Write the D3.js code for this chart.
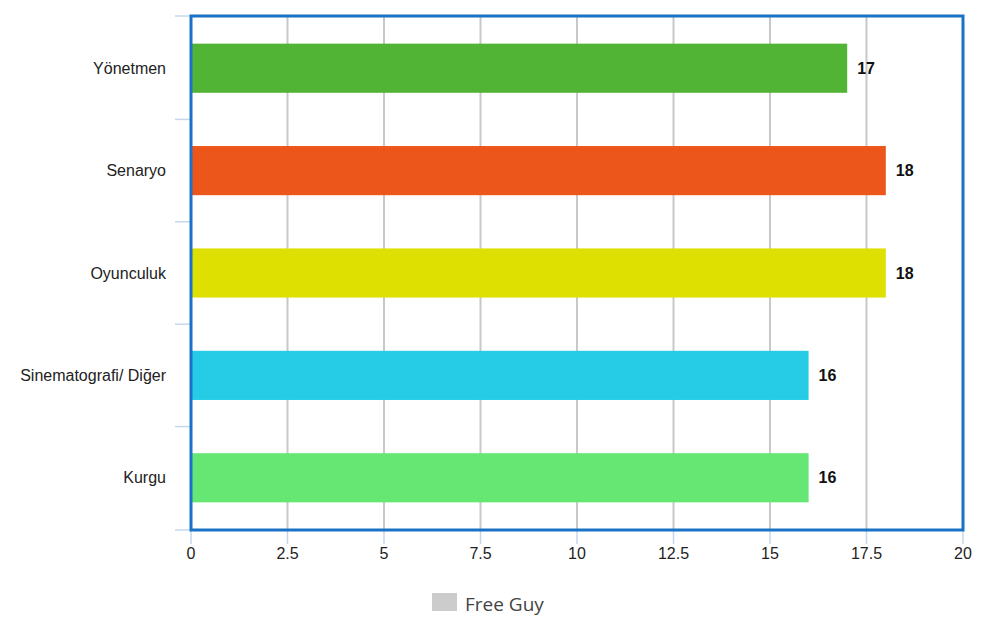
<!DOCTYPE html>
<html><head><meta charset="utf-8">
<script src="https://cdn.jsdelivr.net/npm/d3@7"></script>
<style>body{margin:0;background:#fff}svg{display:block}</style>
</head><body>
<svg id="c" width="981" height="635"></svg>
<script>
const categories = ["Yönetmen","Senaryo","Oyunculuk","Sinematografi/ Diğer","Kurgu"];
const values = [17,18,18,16,16];
const colors = ["#52b434","#ec561b","#dde000","#26cce6","#66e673"];
const xTicks = [0,2.5,5,7.5,10,12.5,15,17.5,20];
const legendLabel = "Free Guy";

const svg = d3.select("#c");
const L=191, R=963, T=16, B=530;
const x = d3.scaleLinear().domain([0,20]).range([L,R]);
const y = d3.scaleBand().domain(categories).range([T,B]).paddingInner(0.52).paddingOuter(0.27);

// gridlines
svg.append("g").selectAll("line").data(xTicks).join("line")
  .attr("x1",d=>x(d)).attr("x2",d=>x(d)).attr("y1",T).attr("y2",B)
  .attr("stroke","#c8c8c8").attr("stroke-width",2);

// bottom axis ticks
svg.append("g").selectAll("line").data(xTicks).join("line")
  .attr("x1",d=>x(d)).attr("x2",d=>x(d)).attr("y1",B).attr("y2",B+14)
  .attr("stroke","#c6d7ec").attr("stroke-width",1.5);
svg.append("g").selectAll("text").data(xTicks).join("text")
  .attr("x",d=>x(d)).attr("y",B+29).attr("text-anchor","middle")
  .attr("font-family","Liberation Sans, Arial, sans-serif").attr("font-size",16).attr("fill","#222")
  .text(d=>d);

// left axis boundary ticks
const bounds = [T];
for(let i=1;i<categories.length;i++) bounds.push((y(categories[i-1])+y.bandwidth()+y(categories[i]))/2);
bounds.push(B);
svg.append("g").selectAll("line").data(bounds).join("line")
  .attr("x1",L-16).attr("x2",L).attr("y1",d=>d).attr("y2",d=>d)
  .attr("stroke","#c6d7ec").attr("stroke-width",1.5);
svg.append("g").selectAll("text").data(categories).join("text")
  .attr("x",166).attr("y",d=>y(d)+y.bandwidth()/2).attr("dy","0.35em").attr("text-anchor","end")
  .attr("font-family","Liberation Sans, Arial, sans-serif").attr("font-size",16).attr("fill","#222")
  .text(d=>d);

// bars
svg.append("g").selectAll("rect").data(categories).join("rect")
  .attr("x",x(0)).attr("y",d=>y(d)).attr("width",(d,i)=>x(values[i])-x(0)).attr("height",y.bandwidth())
  .attr("fill",(d,i)=>colors[i]);
svg.append("g").selectAll("text").data(categories).join("text")
  .attr("x",(d,i)=>x(values[i])+10).attr("y",d=>y(d)+y.bandwidth()/2).attr("dy","0.35em")
  .attr("font-family","Liberation Sans, Arial, sans-serif").attr("font-size",16).attr("font-weight","bold").attr("fill","#111")
  .text((d,i)=>values[i]);

// frame
svg.append("rect").attr("x",L).attr("y",T).attr("width",R-L).attr("height",B-T)
  .attr("fill","none").attr("stroke","#1a72c6").attr("stroke-width",3);

// legend
const lg = svg.append("g");
lg.append("rect").attr("x",432).attr("y",593).attr("width",25).attr("height",18).attr("fill","#cccccc");
lg.append("text").attr("x",465).attr("y",604).attr("dy","0.35em")
  .attr("font-family","Open Sans, Noto Sans, sans-serif").attr("font-size",19).attr("fill","#444")
  .text(legendLabel);
</script>
</body></html>
